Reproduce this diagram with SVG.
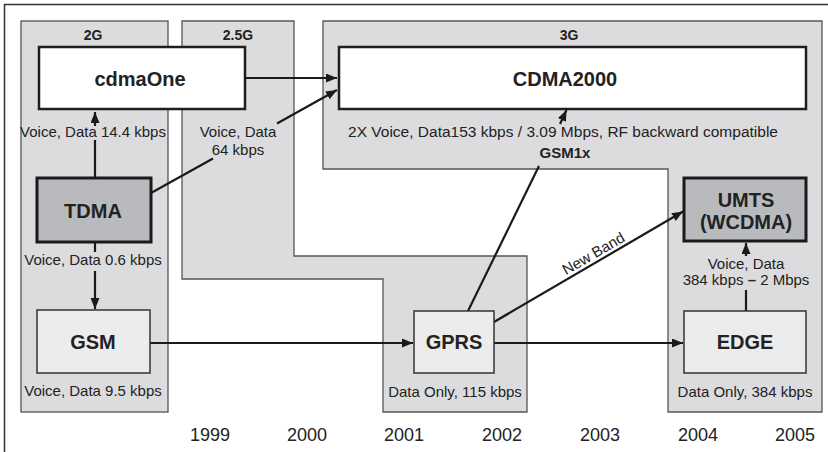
<svg xmlns="http://www.w3.org/2000/svg" width="828" height="452" viewBox="0 0 828 452">
<defs>
<style>
text{font-family:"Liberation Sans",Arial,Helvetica,sans-serif;fill:#222;text-anchor:middle}
.lbl{font-size:15px}
.hdr{font-size:14px;font-weight:bold}
.ttl{font-size:20px;font-weight:bold}
.yr{font-size:18px}
.panel{fill:#dcdcde;stroke:#555;stroke-width:1.3}
.wbox{fill:#fff;stroke:#1e1e1e;stroke-width:2.5}
.dbox{fill:#b9babd;stroke:#1a1a1a;stroke-width:3}
.lbox{fill:#ececec;stroke:#333;stroke-width:1.5}
.con path{fill:none;stroke:#1a1a1a;stroke-width:2.2}
</style>
<marker id="ah" markerUnits="userSpaceOnUse" markerWidth="12" markerHeight="10" refX="11" refY="4.5" orient="auto">
<path d="M0,0 L11,4.5 L0,9 z" fill="#1a1a1a"/>
</marker>
</defs>
<rect width="828" height="452" fill="#fff"/>
<path d="M4.5,452 V4.5 H828" fill="none" stroke="#333" stroke-width="1.5"/>

<g id="panel-2g">
<rect class="panel" x="21" y="21" width="147" height="391"/>
<text class="hdr" x="93" y="40">2G</text>
</g>
<g id="panel-25g">
<polygon class="panel" points="182,21 294,21 294,256 527,256 527,412 383,412 383,279 182,279"/>
<text class="hdr" x="238" y="40">2.5G</text>
</g>
<g id="panel-3g">
<polygon class="panel" points="323,21 822,21 822,412 668,412 668,169 323,169"/>
<text class="hdr" x="569" y="40">3G</text>
</g>

<g class="con" id="connectors">
<path d="M245,78 H337" marker-end="url(#ah)"/>
<path d="M151,193 L213,158.5"/>
<path d="M277,123.5 L337,90" marker-end="url(#ah)"/>
<path d="M95,178 V140"/>
<path d="M95,126 V112" marker-end="url(#ah)"/>
<path d="M95,242 V252"/>
<path d="M95,271 V309" marker-end="url(#ah)"/>
<path d="M150,343 H413" marker-end="url(#ah)"/>
<path d="M494,343 H683" marker-end="url(#ah)"/>
<path d="M468,311 L539,166"/>
<path d="M560,124 L566.5,110" marker-end="url(#ah)"/>
<path d="M494,322 L683,211.5" marker-end="url(#ah)"/>
<path d="M746,311 V290"/>
<path d="M746,256 V243" marker-end="url(#ah)"/>
</g>

<g id="cdmaOne">
<rect class="wbox" x="39" y="47" width="206" height="62"/>
<text class="ttl" x="140" y="86">cdmaOne</text>
</g>
<g id="cdma2000">
<rect class="wbox" x="339" y="47" width="467" height="62"/>
<text class="ttl" x="565" y="86">CDMA2000</text>
</g>
<g id="tdma">
<rect class="dbox" x="37" y="178" width="114" height="64"/>
<text class="ttl" x="93" y="218">TDMA</text>
</g>
<g id="umts">
<rect class="dbox" x="684" y="178" width="122" height="63"/>
<text class="ttl" x="746" y="207">UMTS</text>
<text class="ttl" x="746" y="229">(WCDMA)</text>
</g>
<g id="gsm">
<rect class="lbox" x="37" y="310" width="113" height="63"/>
<text class="ttl" x="93" y="349">GSM</text>
</g>
<g id="gprs">
<rect class="lbox" x="414" y="311" width="80" height="62"/>
<text class="ttl" x="454" y="349">GPRS</text>
</g>
<g id="edge">
<rect class="lbox" x="684" y="311" width="122" height="62"/>
<text class="ttl" x="745" y="349">EDGE</text>
</g>

<g id="labels">
<text class="lbl" x="93" y="137">Voice, Data 14.4 kbps</text>
<text class="lbl" x="238" y="137">Voice, Data</text>
<text class="lbl" x="238" y="155">64 kbps</text>
<text class="lbl" x="93" y="265">Voice, Data 0.6 kbps</text>
<text class="lbl" x="93" y="396">Voice, Data 9.5 kbps</text>
<text x="563" y="137" style="font-size:15.5px">2X Voice, Data153 kbps / 3.09 Mbps, RF backward compatible</text>
<text x="565" y="158" style="font-size:15px;font-weight:bold">GSM1x</text>
<text class="lbl" x="455" y="397">Data Only, 115 kbps</text>
<text class="lbl" x="745" y="397">Data Only, 384 kbps</text>
<text class="lbl" x="746" y="269">Voice, Data</text>
<text class="lbl" x="746" y="285">384 kbps <tspan font-weight="bold">–</tspan> 2 Mbps</text>
<text class="lbl" x="596" y="258" transform="rotate(-30 596 258)">New Band</text>
</g>

<g id="years">
<text class="yr" x="210" y="441">1999</text>
<text class="yr" x="307" y="441">2000</text>
<text class="yr" x="404" y="441">2001</text>
<text class="yr" x="502" y="441">2002</text>
<text class="yr" x="600" y="441">2003</text>
<text class="yr" x="698" y="441">2004</text>
<text class="yr" x="795" y="441">2005</text>
</g>
</svg>
